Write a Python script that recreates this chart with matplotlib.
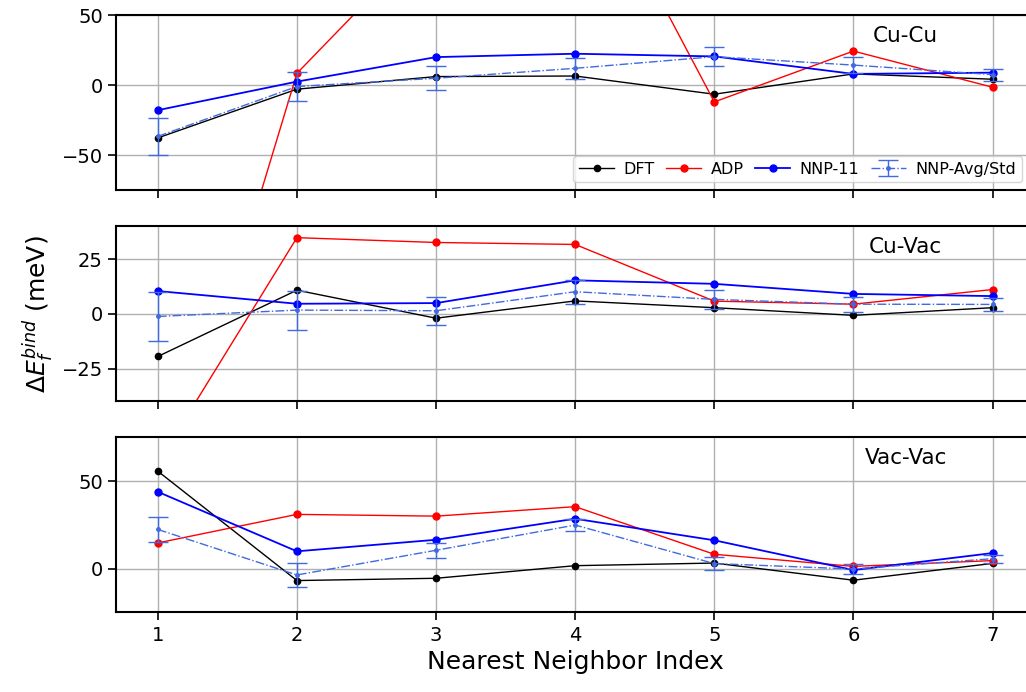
import numpy as np
import matplotlib.pyplot as plt

nn = [1, 2, 3, 4, 5, 6, 7]
pairs = ['Cu-Cu', 'Cu-Vac', 'Vac-Vac']

# binding energy differences (meV) per pair type
dft = [[-37.6, -2.8, 6.2, 6.6, -6.4, 8.1, 4.3],
       [-19.5, 10.8, -2.0, 5.9, 2.8, -0.7, 2.8],
       [55.7, -6.8, -5.5, 1.7, 3.2, -6.6, 3.0]]
adp = [[-320.0, 8.5, 111.0, 176.0, -11.9, 24.4, -1.4],
       [-68.4, 34.8, 32.6, 31.7, 5.8, 4.4, 11.1],
       [14.7, 31.0, 30.0, 35.4, 8.2, 1.3, 4.6]]
nnp11 = [[-17.8, 2.6, 20.1, 22.5, 20.6, 8.1, 9.0],
         [10.4, 4.6, 4.9, 15.3, 13.7, 9.1, 8.1],
         [43.9, 9.9, 16.5, 28.5, 16.2, -0.8, 8.9]]
nnp_avg = [[-36.5, -0.9, 5.0, 12.1, 20.4, 14.4, 7.6],
           [-1.2, 1.7, 1.4, 10.1, 6.6, 4.4, 4.3],
           [22.4, -3.6, 10.5, 24.9, 2.9, -0.2, 5.7]]
nnp_std = [[13.0, 10.1, 8.4, 7.7, 6.9, 5.5, 4.3],
           [11.0, 8.9, 6.3, 5.4, 4.3, 3.4, 3.1],
           [7.0, 6.6, 4.2, 3.6, 3.9, 3.0, 2.2]]
ylims = [(-75, 50), (-40, 40), (-25, 75)]
yticks = [[-50, 0, 50], [-25, 0, 25], [0, 50]]

fig = plt.figure(figsize=(10.26, 6.92), dpi=100)
bottoms = [0.725, 0.42, 0.115]
axes = [fig.add_axes([0.1131, b, 0.895, 0.253]) for b in bottoms]

for i, ax in enumerate(axes):
    ax.plot(nn, dft[i], 'o-', color='black', lw=1.0, ms=4.5, label='DFT')
    ax.plot(nn, adp[i], 'o-', color='red', lw=1.0, ms=5, label='ADP')
    ax.plot(nn, nnp11[i], 'o-', color='blue', lw=1.3, ms=5, label='NNP-11')
    ax.errorbar(nn, nnp_avg[i], yerr=nnp_std[i], fmt='.-.', color='royalblue',
                lw=1.0, ms=5, capsize=7, elinewidth=1.0, label='NNP-Avg/Std')
    ax.set_xlim(0.7, 7.3)
    ax.set_ylim(*ylims[i])
    ax.set_yticks(yticks[i])
    ax.set_xticks(nn)
    ax.grid(True, color='#b0b0b0', lw=1.0)
    ax.tick_params(labelsize=14, length=6, width=1.2)
    for s in ax.spines.values():
        s.set_linewidth(1.5)
    ax.spines['right'].set_visible(False)
    ax.text(0.86, 0.88, pairs[i], transform=ax.transAxes, fontsize=15.5,
            ha='center', va='center')
    if i < 2:
        ax.tick_params(labelbottom=False)

axes[0].legend(loc='lower right', ncol=4, fontsize=11.5, handlelength=2.2,
               columnspacing=0.7, handletextpad=0.6, borderpad=0.35,
               bbox_to_anchor=(0.995, 0.0))
axes[1].set_ylabel(r'$\Delta E_f^{bind}$ (meV)', fontsize=18)
axes[2].set_xlabel('Nearest Neighbor Index', fontsize=18)

fig.savefig('out.png', dpi=100)
